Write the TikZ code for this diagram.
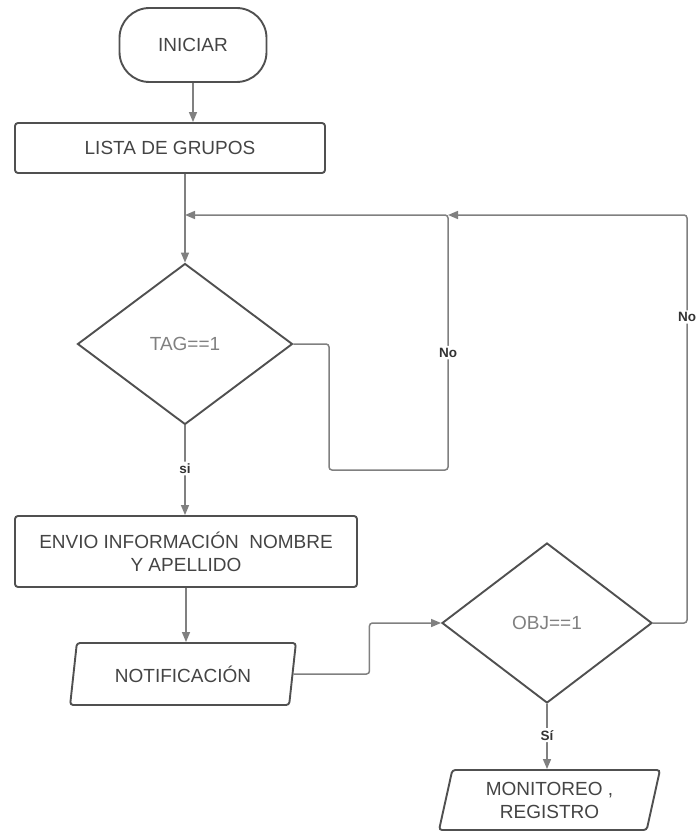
\documentclass[tikz,border=0pt]{standalone}
\usepackage{fontspec}
\setmainfont{Liberation Sans}
\usepackage{tikz}
\usetikzlibrary{arrows.meta}
\usetikzlibrary{shapes.geometric}
\usetikzlibrary{positioning}
\definecolor{linegray}{HTML}{505050}
\definecolor{conngray}{HTML}{808080}
\definecolor{txtgray}{HTML}{444444}
\definecolor{lbltxt}{HTML}{333333}
\tikzstyle{term} = [draw=linegray, line width=1.9pt, rounded corners=30pt, minimum width=147pt, minimum height=74pt]
\tikzstyle{proc} = [draw=linegray, line width=1.9pt, rounded corners=3pt]
\tikzstyle{dec} = [draw=linegray, line width=1.9pt, diamond, aspect=1.3, inner sep=0pt, text=gray]
\tikzstyle{io} = [draw=linegray, line width=1.9pt, trapezium, trapezium stretches=true, rounded corners=3pt]
\tikzstyle{conn} = [draw=conngray, line width=1.5pt, rounded corners=3pt, -{Triangle[length=10pt,width=8pt]}]
\tikzstyle{lbl} = [fill=white, text=lbltxt, font=\bfseries\fontsize{13.5}{16}\selectfont, inner sep=2pt]
\begin{document}
\begin{tikzpicture}
	[x=1pt, y=-1pt,
	every node/.style={text=txtgray, align=center, font=\fontsize{19}{23}\selectfont}
	]
	\useasboundingbox (0,0) rectangle (699,832);
	\draw (193,45) node[term](start){INICIAR};
	\draw (170,148) node[proc, minimum width=310pt, minimum height=50pt](lista){LISTA DE GRUPOS};
	\draw (185,344) node[dec, minimum width=215pt, minimum height=161pt](tag){TAG==1};
	\draw (186,551.5) node[proc, minimum width=342pt, minimum height=71pt](envio){ENVIO INFORMACIÓN\ \ NOMBRE\\Y APELLIDO};
	\draw (183,674) node[io, trapezium left angle=79, trapezium right angle=101, minimum width=226pt, minimum height=62pt](notif){NOTIFICACIÓN};
	\draw (547,623) node[dec, minimum width=210pt, minimum height=160pt](obj){OBJ==1};
	\draw (549.5,800) node[io, trapezium left angle=78, trapezium right angle=102, minimum width=221pt, minimum height=60pt](monit){MONITOREO ,\\REGISTRO};
	\coordinate (join) at (448,215);
	\coordinate (turn) at (329,470);
	\coordinate (far) at (687,215);
	% main flow
	\draw[conn] (start.south) -- (start.south |- lista.north);
	\draw[conn] (tag.north |- lista.south) -- (tag.north);
	\draw[conn] (envio.south) -- (envio.south |- notif.north);
	\draw[conn] (notif.east) -- ++(76,0) |- (obj.west);
	\foreach \from/\to/\lab in {tag/envio/si,obj/monit/Sí}
	\draw[conn] (\from.south) -- node[lbl, pos=.48]{\lab} (\from.south |- \to.north);
	% loops back
	\draw[conn] (tag.east) -| (turn) -- (turn -| join) -- node[lbl, pos=.46]{No} (join) -- (tag.north |- join);
	\draw[conn] (obj.east) -- (obj.east -| far) -- node[lbl, pos=.75]{No} (far) -- (join);
\end{tikzpicture}
\end{document}
